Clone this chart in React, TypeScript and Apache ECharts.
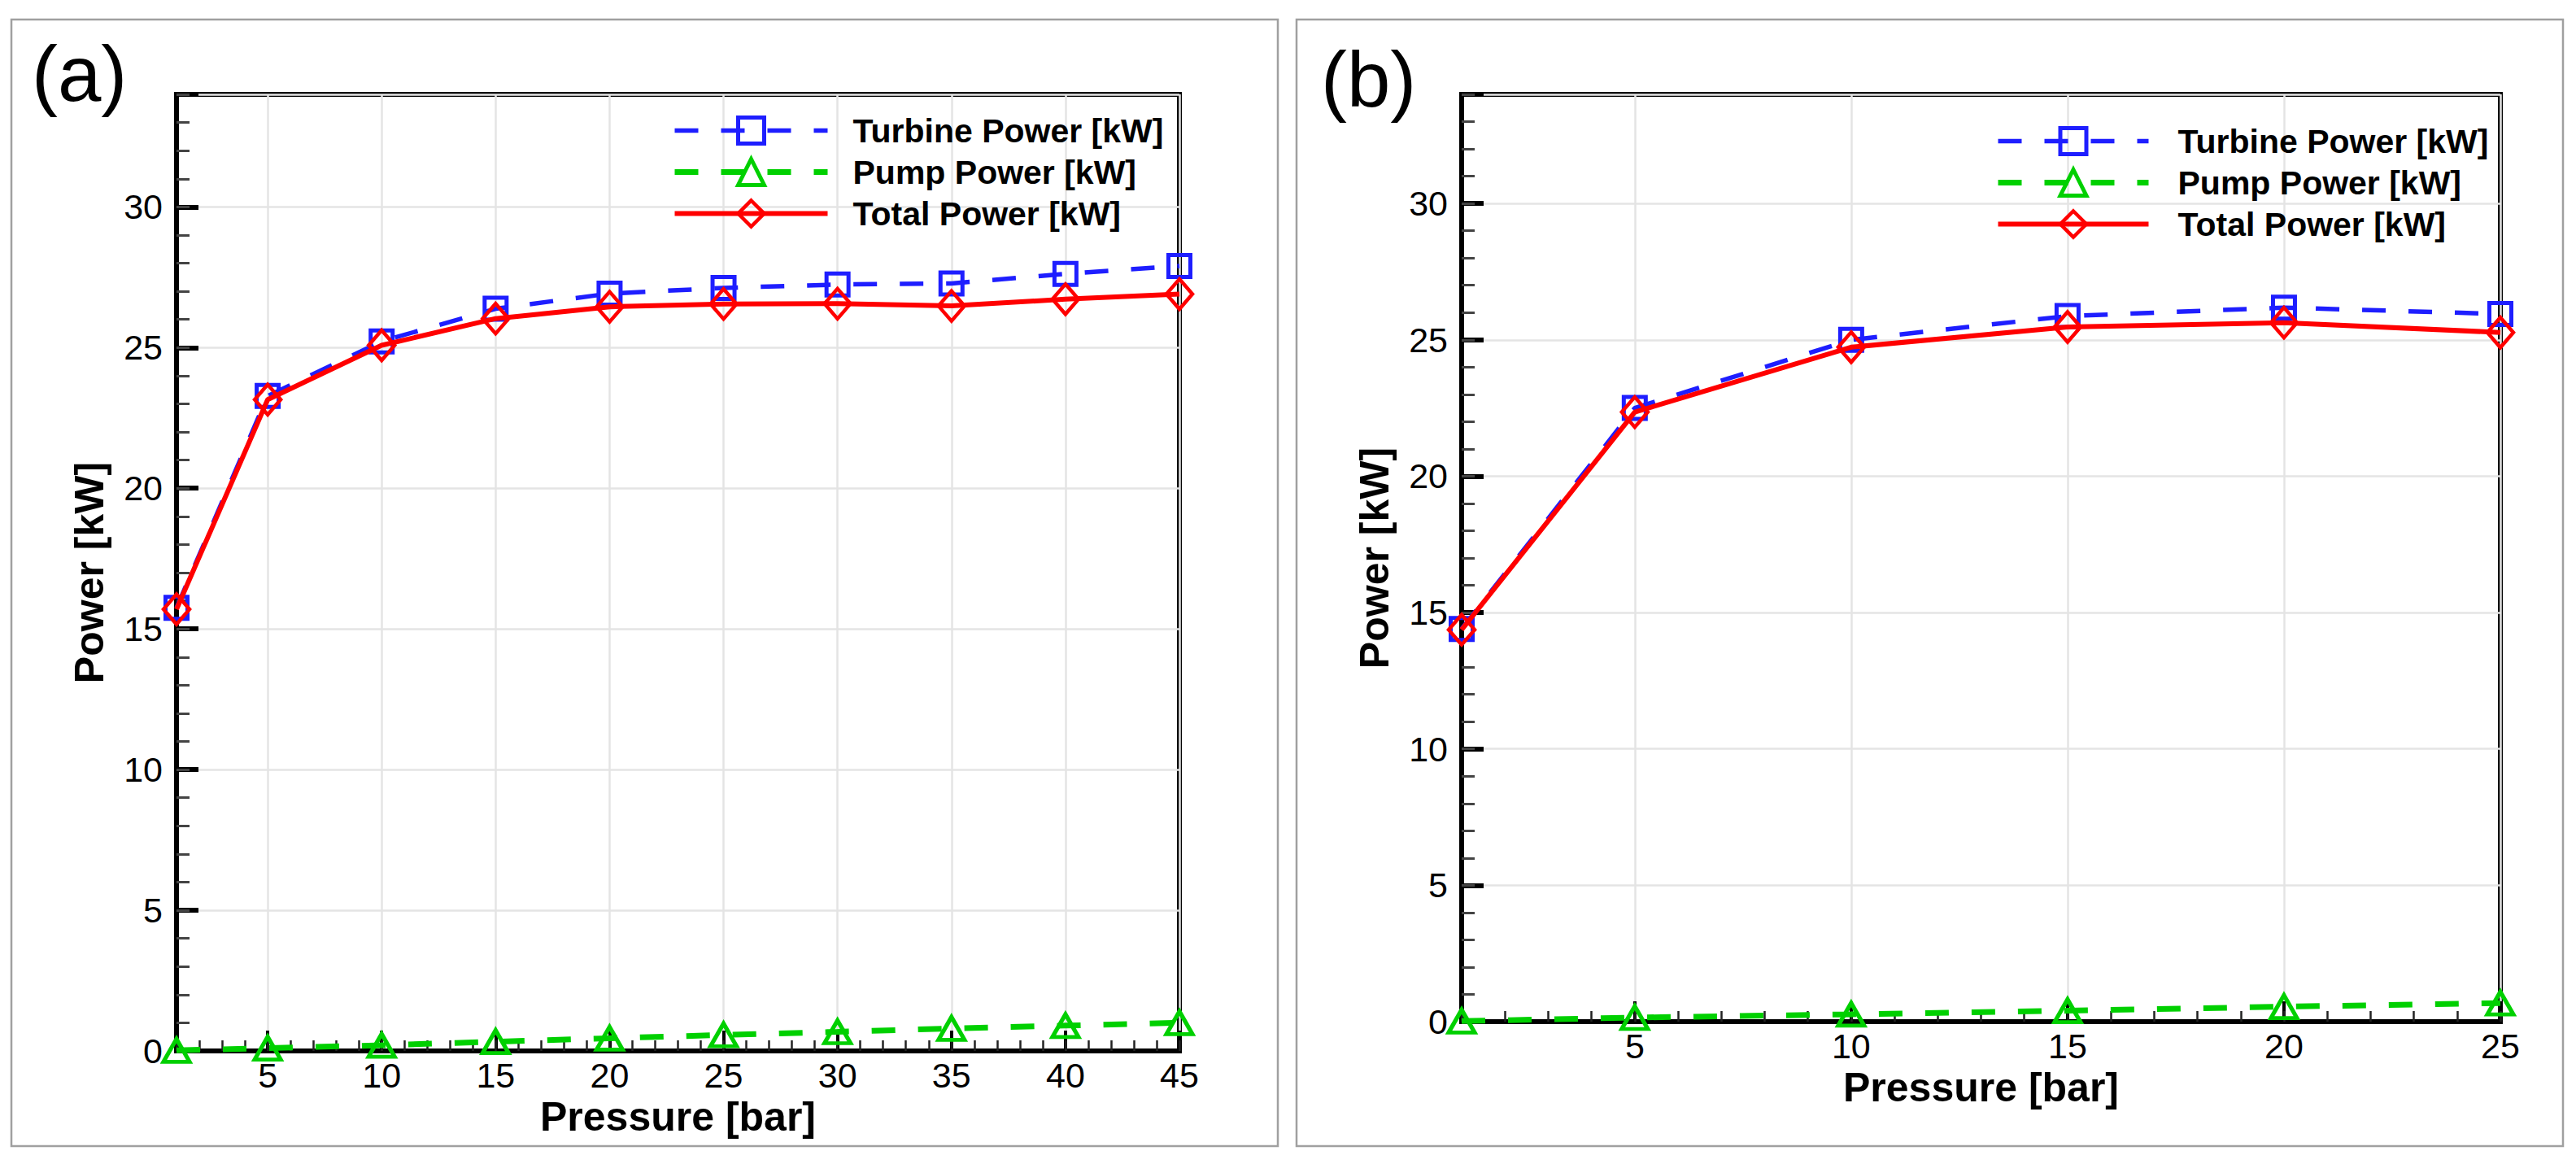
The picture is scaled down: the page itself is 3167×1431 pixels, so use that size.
import React, { useEffect, useRef } from "react";
import * as echarts from "echarts";

// ---------- data ----------
const X_A = [1, 5, 10, 15, 20, 25, 30, 35, 40, 45];
const TURBINE_A = [15.75, 23.28, 25.22, 26.38, 26.92, 27.12, 27.24, 27.28, 27.62, 27.9];
const PUMP_A = [0.02, 0.1, 0.2, 0.33, 0.45, 0.57, 0.68, 0.8, 0.9, 1.0];
const TOTAL_A = [15.7, 23.15, 25.08, 26.03, 26.45, 26.55, 26.56, 26.48, 26.72, 26.9];

const X_B = [1, 5, 10, 15, 20, 25];
const TURBINE_B = [14.4, 22.5, 25.0, 25.87, 26.18, 25.95];
const PUMP_B = [0.02, 0.15, 0.27, 0.4, 0.55, 0.68];
const TOTAL_B = [14.37, 22.35, 24.73, 25.47, 25.63, 25.27];

const SERIES_NAMES = ["Turbine Power [kW]", "Pump Power [kW]", "Total Power [kW]"];
const PANEL_LABELS = ["(a)", "(b)"];
const X_TITLE = "Pressure [bar]";
const Y_TITLE = "Power [kW]";
const X_MAX = [45, 25];
const Y_MAX = 34;

const FONT = "'Liberation Sans', Arial, Helvetica, sans-serif";
const BLUE = "#1e1eff";
const GREEN = "#00d000";
const RED = "#ff0000";

const pairs = (xs: number[], ys: number[]) => xs.map((x, i) => [x, ys[i]]);

function buildOption() {
  const grids = [
    { left: 217, top: 116, width: 1233, height: 1176 },
    { left: 1797, top: 116, width: 1277, height: 1140 },
  ];
  const grid: any[] = [];
  const xAxis: any[] = [];
  const yAxis: any[] = [];
  grids.forEach((g) => {
    grid.push({
      ...g,
      show: true,
      borderColor: "#000",
      borderWidth: 6,
      backgroundColor: "transparent",
      containLabel: false,
    });
  });
  // overlay grids that carry the minor ticks
  grids.forEach((g) => {
    grid.push({ ...g, show: false, containLabel: false });
  });

  [0, 1].forEach((i) => {
    xAxis.push({
      type: "value",
      gridIndex: i,
      min: 1,
      max: X_MAX[i],
      splitNumber: i === 0 ? 9 : 5,
      position: "bottom",
      name: X_TITLE,
      nameLocation: "middle",
      nameGap: 46,
      nameTextStyle: { fontSize: 50, fontWeight: "bold", color: "#000", fontFamily: FONT },
      axisLine: { show: true, onZero: false, lineStyle: { color: "#000", width: 6 } },
      axisTick: { show: true, inside: true, length: 25, lineStyle: { color: "#000", width: 4 } },
      minorTick: { show: false },
      axisLabel: {
        show: true,
        margin: 8,
        fontSize: 43,
        color: "#000",
        fontFamily: FONT,
        formatter: (v: number) => (v === 1 ? "" : String(v)),
      },
      splitLine: { show: true, lineStyle: { color: "#e4e4e4", width: 2.5 } },
    });
    yAxis.push({
      type: "value",
      gridIndex: i,
      min: 0,
      max: Y_MAX,
      interval: 5,
      position: "left",
      name: Y_TITLE,
      nameLocation: "middle",
      nameGap: 82,
      nameTextStyle: { fontSize: 50, fontWeight: "bold", color: "#000", fontFamily: FONT },
      axisLine: { show: true, onZero: false, lineStyle: { color: "#000", width: 6 } },
      axisTick: { show: true, inside: true, length: 27, lineStyle: { color: "#000", width: 6 } },
      minorTick: { show: false },
      axisLabel: {
        show: true,
        margin: 17,
        fontSize: 43,
        color: "#000",
        fontFamily: FONT,
        formatter: (v: number) => (v % 5 === 0 ? String(v) : ""),
      },
      splitLine: { show: true, lineStyle: { color: "#e4e4e4", width: 2.5 } },
    });
  });
  // minor tick axes
  [0, 1].forEach((i) => {
    xAxis.push({
      type: "value",
      gridIndex: 2 + i,
      min: 1,
      max: X_MAX[i],
      interval: 1,
      position: "bottom",
      axisLine: { show: false },
      axisTick: { show: true, inside: true, length: 13, lineStyle: { color: "#222", width: 2.5 } },
      axisLabel: { show: false },
      splitLine: { show: false },
    });
    yAxis.push({
      type: "value",
      gridIndex: 2 + i,
      min: 0,
      max: Y_MAX,
      interval: 1,
      position: "left",
      axisLine: { show: false },
      axisTick: { show: true, inside: true, length: 16, lineStyle: { color: "#444", width: 3 } },
      axisLabel: { show: false },
      splitLine: { show: false },
    });
  });

  const mk = (idx: number, xs: number[], t: number[], p: number[], tot: number[]) => [
    {
      name: SERIES_NAMES[0],
      type: "line",
      xAxisIndex: idx,
      yAxisIndex: idx,
      data: pairs(xs, t),
      symbol: "rect",
      symbolSize: 27,
      showAllSymbol: true,
      clip: false,
      lineStyle: { color: BLUE, width: 5.5, type: [29, 28] },
      itemStyle: { color: "transparent", borderColor: BLUE, borderWidth: 5 },
      z: 2,
    },
    {
      name: SERIES_NAMES[1],
      type: "line",
      xAxisIndex: idx,
      yAxisIndex: idx,
      data: pairs(xs, p),
      symbol: "triangle",
      symbolSize: [32, 28],
      showAllSymbol: true,
      clip: false,
      lineStyle: { color: GREEN, width: 7, type: [29, 28] },
      itemStyle: { color: "transparent", borderColor: GREEN, borderWidth: 5 },
      z: 3,
    },
    {
      name: SERIES_NAMES[2],
      type: "line",
      xAxisIndex: idx,
      yAxisIndex: idx,
      data: pairs(xs, tot),
      symbol: "diamond",
      symbolSize: [32, 37],
      showAllSymbol: true,
      clip: false,
      lineStyle: { color: RED, width: 6, type: "solid" },
      itemStyle: { color: "transparent", borderColor: RED, borderWidth: 4.5 },
      z: 4,
    },
  ];

  const series = [
    ...mk(0, X_A, TURBINE_A, PUMP_A, TOTAL_A),
    ...mk(1, X_B, TURBINE_B, PUMP_B, TOTAL_B),
  ];

  const legendBase = {
    orient: "vertical",
    itemHeight: 40,
    itemGap: 10,
    padding: 0,
    selectedMode: false,
    data: SERIES_NAMES,
    lineStyle: { width: "inherit", type: "inherit", color: "inherit" },
    itemStyle: { borderWidth: "inherit", borderColor: "inherit", color: "inherit" },
  };

  const legend = [
    {
      ...legendBase,
      left: 826,
      top: 140,
      itemWidth: 188,
      textStyle: { fontSize: 41, fontWeight: "bold", color: "#000", fontFamily: FONT, lineHeight: 40, padding: [0, 0, 0, 26] },
    },
    {
      ...legendBase,
      left: 2453,
      top: 153,
      itemWidth: 185,
      textStyle: { fontSize: 41, fontWeight: "bold", color: "#000", fontFamily: FONT, lineHeight: 40, padding: [0, 0, 0, 31] },
    },
  ];

  const graphic = [
    {
      type: "rect",
      shape: { x: 14, y: 24, width: 1557, height: 1385 },
      style: { fill: "none", stroke: "#a0a0a0", lineWidth: 2.5 },
      silent: true,
      z: -10,
    },
    {
      type: "rect",
      shape: { x: 1594, y: 24, width: 1557, height: 1385 },
      style: { fill: "none", stroke: "#a0a0a0", lineWidth: 2.5 },
      silent: true,
      z: -10,
    },
    {
      type: "text",
      x: 39,
      y: 90,
      style: { text: PANEL_LABELS[0], fontSize: 96, fontFamily: FONT, fill: "#000", textVerticalAlign: "middle", textAlign: "left" },
      silent: true,
    },
    {
      type: "text",
      x: 1624,
      y: 97,
      style: { text: PANEL_LABELS[1], fontSize: 96, fontFamily: FONT, fill: "#000", textVerticalAlign: "middle", textAlign: "left" },
      silent: true,
    },
  ];

  return {
    animation: false,
    backgroundColor: "#ffffff",
    textStyle: { fontFamily: FONT },
    grid,
    xAxis,
    yAxis,
    legend,
    graphic,
    series,
  };
}

export default function App() {
  const ref = useRef<HTMLDivElement | null>(null);
  useEffect(() => {
    document.body.style.margin = "0";
    if (!ref.current) return;
    const chart = echarts.init(ref.current, null, { renderer: "svg" });
    chart.setOption(buildOption() as any);
    return () => {
      chart.dispose();
    };
  }, []);
  return <div ref={ref} style={{ width: 3167, height: 1431, background: "#fff" }} />;
}
